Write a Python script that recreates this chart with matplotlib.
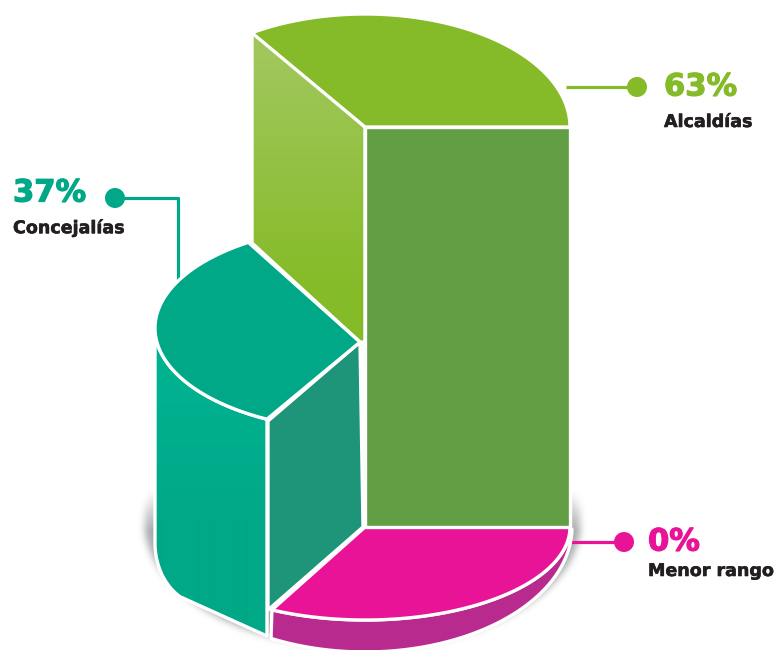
"""
Stacked 3D pie infographic: share of seats by office.
Everything is drawn on one full-figure axes in pixel units, y pointing down.
"""

import matplotlib
matplotlib.use("Agg")
import matplotlib.patheffects as pe
import matplotlib.pyplot as plt
import numpy as np
from matplotlib.patches import Polygon, Circle

categories = ["Alcaldías", "Concejalías", "Menor rango"]
shares = [63, 37, 0]

GREEN = "#85bb28"
GREEN_FRONT = "#629e44"
TEAL = "#00a888"
TEAL_INNER = "#1e9478"
PINK = "#e91397"
PINK_SIDE = "#b92a8f"
INK = "#231f20"
WHITE_LW = 2.4

W, H = 776, 650
BASE_Y = 527
RX = 205


def column_height(share):
    # the tallest slice spans 400 px, heights grow a bit faster than the share
    return 400 * (share / 63) ** 1.45


def top_y(share):
    return BASE_Y - column_height(share)


def radius_y(share):
    # taller slices are seen slightly more from above
    return 93 + 0.05 * column_height(share)


def arc(cx, cy, rx, ry, t0, t1, n=80):
    t = np.radians(np.linspace(t0, t1, n))
    return np.column_stack([cx + rx * np.cos(t), cy - ry * np.sin(t)])


def box_blur(mask, size, passes=3):
    kernel = np.ones(size) / size
    out = mask
    for _ in range(passes):
        out = np.apply_along_axis(lambda r: np.convolve(r, kernel, mode="same"), 0, out)
        out = np.apply_along_axis(lambda r: np.convolve(r, kernel, mode="same"), 1, out)
    return out


def gradient_fill(ax, pts, top_color, bottom_color, y0, y1, zorder):
    c0 = np.array(matplotlib.colors.to_rgb(top_color))
    c1 = np.array(matplotlib.colors.to_rgb(bottom_color))
    # colours hold their end values above y0 and below y1
    f = np.clip((np.arange(H) + 0.5 - y0) / (y1 - y0), 0, 1)[:, None, None]
    img = c0[None, None, :] * (1 - f) + c1[None, None, :] * f
    im = ax.imshow(img, extent=(0, W, H, 0), aspect="auto", zorder=zorder, interpolation="bilinear")
    clip = Polygon(pts, closed=True, transform=ax.transData)
    im.set_clip_path(clip)


def face(ax, pts, color, zorder, edge="white", lw=WHITE_LW):
    ax.add_patch(Polygon(pts, closed=True, facecolor=color, edgecolor=edge, linewidth=lw,
                         joinstyle="round", zorder=zorder))


def callout(ax, line_x, line_y, color, value, name, text_x, value_y, name_y):
    ax.plot(line_x, line_y, color=color, lw=2.3, solid_capstyle="butt", zorder=1)
    ax.add_patch(Circle((line_x[0], line_y[0]), 10, facecolor=color, edgecolor="none", zorder=2))
    # a thin stroke makes the bold face look heavier
    t1 = ax.text(text_x, value_y, f"{value}%", color=color, fontsize=22, fontweight="bold",
                 family="DejaVu Sans", va="center", ha="left")
    t1.set_path_effects([pe.withStroke(linewidth=0.9, foreground=color)])
    t2 = ax.text(text_x, name_y, name, color=INK, fontsize=12.6, fontweight="bold",
                 family="DejaVu Sans", va="center", ha="left")
    t2.set_path_effects([pe.withStroke(linewidth=0.4, foreground=INK)])


fig = plt.figure(figsize=(W / 100, H / 100), dpi=100)
ax = fig.add_axes([0, 0, 1, 1])

# soft shadow under the base, fading out towards the top
yy, xx = np.mgrid[0:H, 0:W]
shadow = (((xx - 362) / 218.0) ** 2 + ((yy - 522) / 126.0) ** 2 <= 1).astype(float)
shadow = box_blur(shadow, 7)
shadow *= np.clip((yy - 488) / 42.0, 0, 1)
shadow_img = np.zeros((H, W, 4))
shadow_img[..., :3] = matplotlib.colors.to_rgb("#a9abae")
shadow_img[..., 3] = shadow
ax.imshow(shadow_img, extent=(0, W, H, 0), aspect="auto", zorder=0)

# callouts sit under the slices so their lines end at the edge
callout(ax, [637, 566], [87, 87], GREEN, shares[0], categories[0], 664, 87, 122)
callout(ax, [115, 178, 178], [198, 198, 285], TEAL, shares[1], categories[1], 13, 193, 228)
callout(ax, [624, 570], [542, 542], PINK, shares[2], categories[2], 648, 542, 571)

# base slice
pink_y = top_y(shares[2])
pink_ry = radius_y(shares[2])
pink_top = np.vstack([[[365, pink_y]], arc(365, pink_y, RX, pink_ry, 0, -117)])
pink_low = arc(365, pink_y, RX + 2, 125, -117, -1)
pink_side = np.vstack([arc(365, pink_y, RX, pink_ry, -1, -117), pink_low])
face(ax, pink_side, PINK_SIDE, 3)
face(ax, pink_top, PINK, 4)

# tall slice
green_y = top_y(shares[0])
green_ry = radius_y(shares[0])
green_top = np.vstack([[[365, green_y]], arc(365, green_y, RX, green_ry, 0, 123.5)])
green_left = [(252, 30), (365, green_y), (365, top_y(shares[1])), (360, top_y(shares[1])), (252, 243)]
green_front = [(365, green_y), (570, green_y), (570, BASE_Y), (365, BASE_Y)]
gradient_fill(ax, green_left, "#9fc75a", GREEN, 60, 290, 3)
ax.add_patch(Polygon(green_left, closed=True, fill=False, edgecolor="white", lw=WHITE_LW, zorder=3.1))
face(ax, green_front, GREEN_FRONT, 5)
face(ax, green_top, GREEN, 6)

# middle slice
teal_y = top_y(shares[1])
teal_ry = radius_y(shares[1])
teal_cy = teal_y - 14
teal_top = np.vstack([[[360, teal_y]], arc(360, teal_cy, RX, teal_ry, 123, 243)])
teal_inner = [(360, teal_y), (268, 421), (268, 610), (363, BASE_Y)]
face(ax, teal_inner, TEAL_INNER, 4.5)
teal_side = np.vstack([
    arc(360, teal_cy, RX, teal_ry, 180, 243),
    [(267, 421), (267, 636)],
    arc(205, 543, 50, 62, 240, 180, n=30),
])
gradient_fill(ax, teal_side, "#00b592", TEAL, 330, 520, 7)
ax.add_patch(Polygon(teal_side, closed=True, fill=False, edgecolor="white", lw=WHITE_LW,
                     joinstyle="round", zorder=7.1))
face(ax, teal_top, TEAL, 8)

ax.set_xlim(0, W)
ax.set_ylim(H, 0)
ax.axis("off")
fig.savefig("out.png", dpi=100)
